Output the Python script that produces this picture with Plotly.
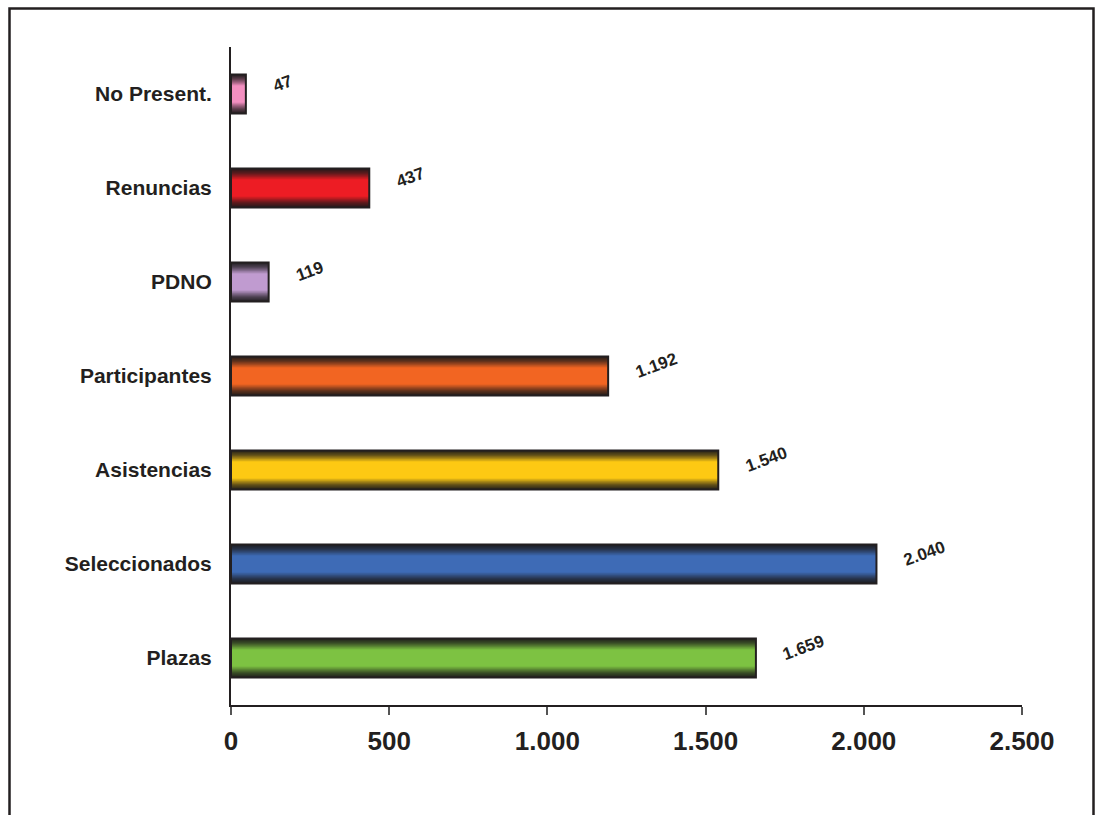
import plotly.graph_objects as go

categories = ["Plazas", "Seleccionados", "Asistencias", "Participantes", "PDNO", "Renuncias", "No Present."]
values = [1659, 2040, 1540, 1192, 119, 437, 47]
bar_colors = ["#7dc242", "#3e6bb6", "#fdc913", "#f26522", "#c09bd0", "#ed1c24", "#f38fc0"]
x_tickvals = [0, 500, 1000, 1500, 2000, 2500]
x_ticktext = ["0", "500", "1.000", "1.500", "2.000", "2.500"]

FONT = "Arial, Liberation Sans, sans-serif"
W, H = 1102, 815
L, R, T, B = 231, 1022, 47, 705


def hex2rgb(h):
    h = h.lstrip("#")
    return tuple(int(h[i:i + 2], 16) for i in (0, 2, 4))


def mix(c1, c2, f):
    a, b = hex2rgb(c1), hex2rgb(c2)
    return "rgb(%d,%d,%d)" % tuple(round(a[i] * (1 - f) + b[i] * f) for i in range(3))


fig = go.Figure()

BAR_W = 0.415
N = 16
dark = "#1c1a1a"
for k in range(N):
    t = k / (N - 1)
    width = BAR_W * (1 - 0.6 * t)
    f = min(1.0, (t ** 1.4) * 1.1)
    cols = [mix(dark, c, 0.08 + 0.92 * f) for c in bar_colors]
    fig.add_trace(go.Bar(
        y=categories, x=values, orientation="h", width=width,
        marker=dict(color=cols, line=dict(width=0)),
        hoverinfo="skip", showlegend=False,
    ))

# outline
fig.add_trace(go.Bar(
    y=categories, x=values, orientation="h", width=BAR_W,
    marker=dict(color="rgba(0,0,0,0)", line=dict(width=2, color="#231f20")),
    showlegend=False,
))

for cat, v in zip(categories, values):
    fig.add_annotation(
        x=v, y=cat, text=f"{v:,}".replace(",", "."), showarrow=False,
        xanchor="left", yanchor="middle", xshift=22, yshift=11, textangle=-20,
        font=dict(family=FONT, size=17, color="#231f20", weight="bold"),
    )


def px_x(p):
    return (p - L) / (R - L)


def px_y(p):
    return (B - p) / (B - T)


# outer frame
fig.add_shape(type="rect", xref="paper", yref="paper",
              x0=px_x(9.5), x1=px_x(1093.5), y0=px_y(840), y1=px_y(8.5),
              line=dict(color="#231f20", width=2.5), fillcolor="rgba(0,0,0,0)", layer="below")

fig.update_layout(
    width=W, height=H, barmode="overlay",
    margin=dict(l=L, r=W - R, t=T, b=H - B),
    paper_bgcolor="white", plot_bgcolor="white",
    font=dict(family=FONT, color="#231f20"),
    xaxis=dict(range=[0, 2500], tickvals=x_tickvals, ticktext=x_ticktext,
               showgrid=False, zeroline=False, showline=True, linecolor="#231f20", linewidth=2,
               ticks="outside", ticklen=8, tickcolor="#555555", tickwidth=1.5,
               ticklabelstandoff=4,
               tickfont=dict(family=FONT, size=26, color="#231f20", weight="bold")),
    yaxis=dict(range=[-0.5, 6.5], showgrid=False, zeroline=False, showline=True,
               linecolor="#231f20", linewidth=2, ticks="", ticklabelstandoff=13,
               tickfont=dict(family=FONT, size=21, color="#231f20", weight="bold")),
)

fig.write_html("out.html", config={"displayModeBar": False},
               post_script="document.body.style.margin='0';document.body.style.overflow='hidden';")
